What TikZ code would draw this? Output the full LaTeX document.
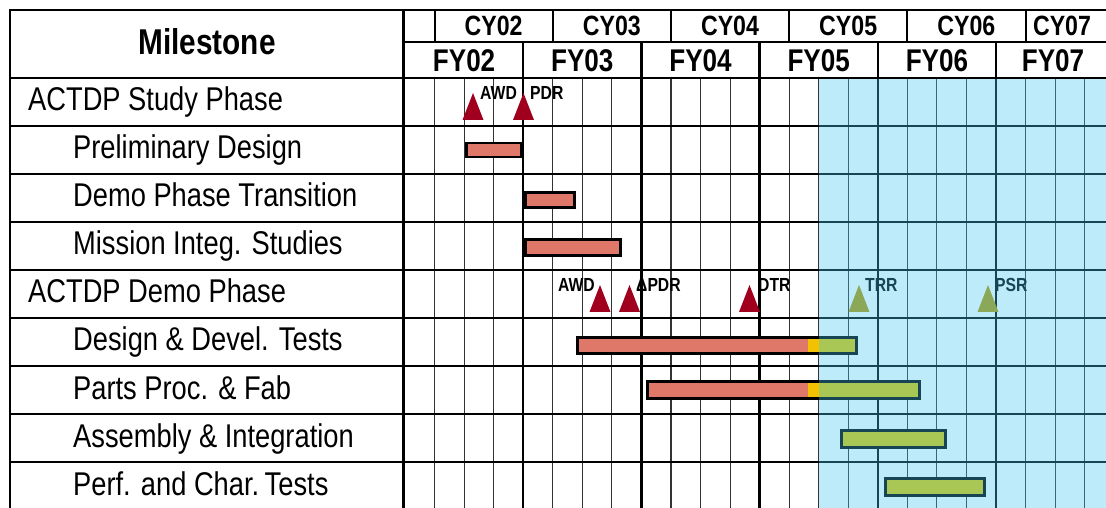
\documentclass[tikz,border=0pt]{standalone}
\usepackage{fontspec}
\setmainfont{Liberation Sans}[FakeStretch=0.83]
\definecolor{redBar}   {HTML}{E0786A}
\definecolor{amberBar} {HTML}{F2C200}
\definecolor{greenBar} {HTML}{DFC900}
\definecolor{redMark}  {HTML}{A0001E}
\definecolor{greenMark}{HTML}{B19806}
\definecolor{shadeC}   {HTML}{42C6F1}
\tikzset{
  rowLabel/.style={anchor=base west,inner sep=0pt,font=\fontsize{33}{38}\selectfont},
  headLabel/.style={anchor=base,inner sep=0pt,font=\fontsize{36}{40}\selectfont\bfseries},
  cyLabel/.style={anchor=base,inner sep=0pt,font=\fontsize{28}{32}\selectfont\bfseries},
  fyLabel/.style={anchor=base,inner sep=0pt,font=\fontsize{31.5}{36}\selectfont\bfseries},
  markLabel/.style={anchor=base west,inner sep=0pt,font=\fontsize{19}{21}\selectfont\bfseries},
  quarterLine/.style={line width=1.1pt,black!80},
  yearLine/.style={line width=2.4pt,black},
  rowLine/.style={line width=2pt,black},
  frameLine/.style={line width=3pt,black},
  barEdge/.style={line width=3pt,black},
}
\begin{document}
\begin{tikzpicture}[x=1bp,y=-1bp]
\useasboundingbox (0,0) rectangle (1106,508);
% grid of quarters, fiscal years and rows
\foreach \q in {1,...,23}
  \draw[quarterLine] ({405+29.55*\q},78) -- ({405+29.55*\q},508);
\foreach \q in {4,8,...,20}
  \draw[yearLine] ({405+29.55*\q},42) -- ({405+29.55*\q},508);
\foreach \q in {1,5,...,21}
  \draw[rowLine] ({405+29.55*\q},10) -- ({405+29.55*\q},42);
\foreach \y in {126,174,...,462}
  \draw[rowLine] (10,\y) -- (1106,\y);

% bars
\draw[barEdge,fill=redBar] (466.5,143) rectangle (521.5,157);
\draw[barEdge,fill=redBar] (525.5,192.5) rectangle (574.5,207.5);
\draw[barEdge,fill=redBar] (525.5,239.5) rectangle (620.5,255.5);
\fill[redBar] (577.5,337.5) rectangle (808,353.5);
\fill[amberBar] (808,337.5) rectangle (818.7,353.5);
\fill[greenBar] (818.7,337.5) rectangle (856.5,353.5);
\draw[barEdge] (577.5,337.5) rectangle (856.5,353.5);
\fill[redBar] (647.5,381.5) rectangle (808,398.5);
\fill[amberBar] (808,381.5) rectangle (818.7,398.5);
\fill[greenBar] (818.7,381.5) rectangle (919.5,398.5);
\draw[barEdge] (647.5,381.5) rectangle (919.5,398.5);
\draw[barEdge,fill=greenBar] (841.5,430.5) rectangle (945.5,447.5);
\draw[barEdge,fill=greenBar] (885.5,478.5) rectangle (984.5,495.5);

% milestones
\foreach \x/\y/\c in {473/120/redMark,523.5/120/redMark,600/312/redMark,629.5/312/redMark,
    749.5/312/redMark,859/312/greenMark,988/312/greenMark}
  \fill[\c] (\x-10.5,\y) -- (\x,\y-27) -- (\x+10.5,\y) -- cycle;
\node[markLabel] (awdStudy) at (480,100) {AWD};
\node[markLabel] (pdrStudy) at (530,100) {PDR};
\node[markLabel,anchor=base east] (awdDemo) at (595,292) {AWD};
\node[markLabel] (pdrDemo) at (636,292) {ΔPDR};
\node[markLabel] (dtr) at (758,292) {DTR};
\node[markLabel] (trr) at (865,292) {TRR};
\node[markLabel] (psr) at (995,292) {PSR};

% shaded span, seen through
\fill[shadeC,fill opacity=0.35] (818.7,79.5) rectangle (1106,508);

% frame and header
\draw[frameLine] (1106,10) -- (10,10) -- (10,508);
\draw[frameLine] (10,78) -- (1106,78);
\draw[line width=3.5pt] (403.5,10) -- (403.5,508);
\draw[rowLine] (405,42) -- (1106,42);
\node[headLabel] (milestone) at (207,55) {Milestone};
\foreach \yr [count=\k from 0] in {02,03,04,05,06}
  \node[cyLabel] (cy\yr) at ({493.6+118.2*\k},36) {CY\yr};
\node[cyLabel] (cy07) at (1062,36) {CY07};
\foreach \yr [count=\k from 0] in {02,03,04,05,06}
  \node[fyLabel] (fy\yr) at ({464.1+118.2*\k},72) {FY\yr};
\node[fyLabel] (fy07) at (1053,72) {FY07};

% row titles
\node[rowLabel] (study) at (28,111) {ACTDP Study Phase};
\node[rowLabel] (prelim) at (73,159) {Preliminary Design};
\node[rowLabel] (transition) at (73,207) {Demo Phase Transition};
\node[rowLabel] (integ) at (73,255) {Mission Integ. Studies};
\node[rowLabel] (demo) at (28,303) {ACTDP Demo Phase};
\node[rowLabel] (devel) at (73,351) {Design \& Devel. Tests};
\node[rowLabel] (fab) at (73,399) {Parts Proc. \& Fab};
\node[rowLabel] (assembly) at (73,447) {Assembly \& Integration};
\node[rowLabel] (perf) at (73,495) {Perf. and Char.\,Tests};
\end{tikzpicture}
\end{document}
